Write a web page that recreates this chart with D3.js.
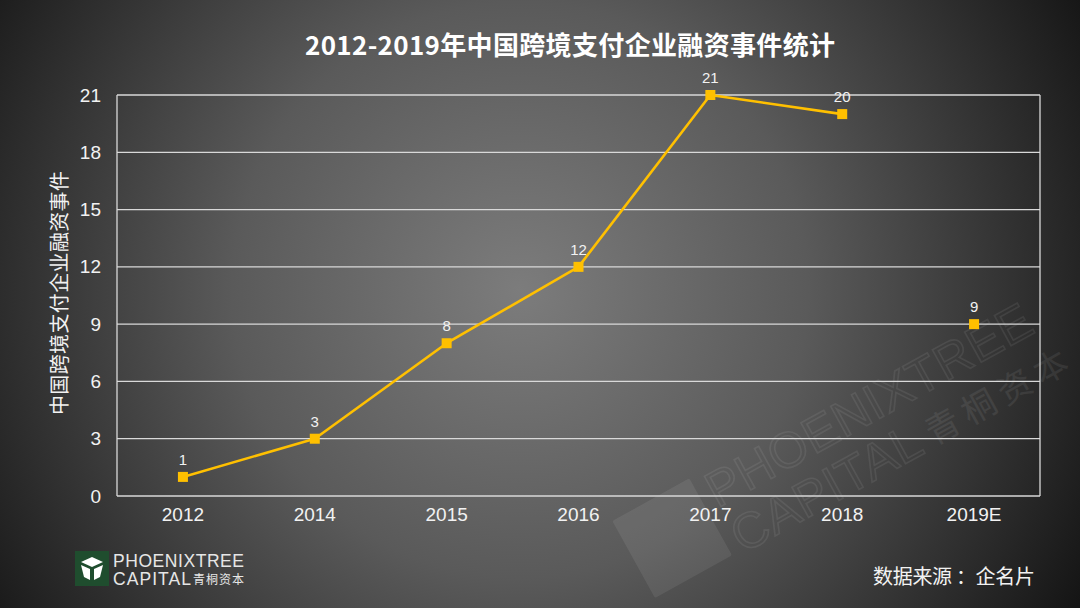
<!DOCTYPE html>
<html><head><meta charset="utf-8">
<script src="https://cdn.jsdelivr.net/npm/d3@7"></script>
<style>html,body{margin:0;padding:0;background:#222;}svg{display:block;}</style>
</head><body>
<svg id="c" width="1080" height="608"></svg>
<script>
const categories = ["2012","2014","2015","2016","2017","2018","2019E"];
const values = [1,3,8,12,21,20,9];
const connected = [true,true,true,true,true,true,false];
const yTicks = [0,3,6,9,12,15,18,21];
const title = "2012-2019年中国跨境支付企业融资事件统计";
const yLabel = "中国跨境支付企业融资事件";
const source = "数据来源 ：企名片";

const svg = d3.select("#c");
const W = 1080, H = 608;
const defs = svg.append("defs");
const rg = defs.append("radialGradient").attr("id","bg")
  .attr("gradientUnits","userSpaceOnUse").attr("cx",520).attr("cy",290).attr("r",640);
rg.append("stop").attr("offset","0").attr("stop-color","#7c7c7c");
rg.append("stop").attr("offset","0.45").attr("stop-color","#5a5a5a");
rg.append("stop").attr("offset","1").attr("stop-color","#151515");
svg.append("rect").attr("width",W).attr("height",H).attr("fill","url(#bg)");

// watermark
const wm = svg.append("g").attr("transform","translate(655,598) rotate(-29)").attr("opacity",0.07);
wm.append("rect").attr("x",0).attr("y",-88).attr("width",88).attr("height",88).attr("fill","#fff").attr("rx",2);
wm.append("text").attr("x",98).attr("y",-48).attr("font-family","Liberation Sans, Arial, sans-serif")
  .attr("font-size",50).attr("fill","none").attr("stroke","#fff").attr("stroke-width",1.6)
  .attr("textLength",365).text("PHOENIXTREE");
wm.append("text").attr("x",98).attr("y",4).attr("font-family","Liberation Sans, Arial, sans-serif")
  .attr("font-size",50).attr("fill","none").attr("stroke","#fff").attr("stroke-width",1.6)
  .attr("textLength",210).text("CAPITAL");
wm.append("text").attr("x",318).attr("y",2).attr("font-family","Noto Sans CJK SC, sans-serif")
  .attr("font-size",34).attr("fill","#fff").attr("letter-spacing",7).text("青桐资本");

const m = {l:117, r:1040, t:95, b:496};
const x = d3.scaleBand().domain(categories).range([m.l, m.r]);
const y = d3.scaleLinear().domain([0,21]).range([m.b, m.t]);

// gridlines
svg.append("g").selectAll("line").data(yTicks).join("line")
  .attr("x1",m.l).attr("x2",m.r).attr("y1",d=>y(d)).attr("y2",d=>y(d))
  .attr("stroke","#d9d9d9").attr("stroke-width",1.3);
svg.append("line").attr("x1",m.l).attr("x2",m.l).attr("y1",m.t).attr("y2",m.b).attr("stroke","#d9d9d9").attr("stroke-width",1.3);
svg.append("line").attr("x1",m.r).attr("x2",m.r).attr("y1",m.t).attr("y2",m.b).attr("stroke","#d9d9d9").attr("stroke-width",1.3);

// axes
const yAxis = d3.axisLeft(y).tickValues(yTicks).tickSize(0).tickPadding(16);
const ya = svg.append("g").attr("transform",`translate(${m.l},0)`).call(yAxis);
ya.select(".domain").remove();
ya.selectAll("text").attr("font-family","Liberation Sans, Arial, sans-serif").attr("font-size",19).attr("fill","#f2f2f2");

const xAxis = d3.axisBottom(x).tickSize(0).tickPadding(12);
const xa = svg.append("g").attr("transform",`translate(0,${m.b})`).call(xAxis);
xa.select(".domain").remove();
xa.selectAll("text").attr("font-family","Liberation Sans, Arial, sans-serif").attr("font-size",19).attr("fill","#f2f2f2");

const cx = d => x(d) + x.bandwidth()/2;
const pts = categories.map((c,i)=>({c, v:values[i], conn:connected[i]}));

const line = d3.line().x(d=>cx(d.c)).y(d=>y(d.v));
svg.append("path").datum(pts.filter(d=>d.conn)).attr("d",line)
  .attr("fill","none").attr("stroke","#ffc000").attr("stroke-width",2.6).attr("stroke-linejoin","round");

svg.append("g").selectAll("rect").data(pts).join("rect")
  .attr("x",d=>cx(d.c)-5).attr("y",d=>y(d.v)-5).attr("width",10).attr("height",10).attr("fill","#ffc000");

svg.append("g").selectAll("text").data(pts).join("text")
  .attr("x",d=>cx(d.c)).attr("y",d=>y(d.v)-12).attr("text-anchor","middle")
  .attr("font-family","Liberation Sans, Arial, sans-serif").attr("font-size",15).attr("fill","#f2f2f2")
  .text(d=>d.v);

// title
svg.append("text").attr("x",570).attr("y",55).attr("text-anchor","middle")
  .attr("font-family","Noto Sans CJK SC, sans-serif").attr("font-weight","bold")
  .attr("font-size",26).attr("fill","#ffffff").attr("textLength",530).text(title);

// y label
svg.append("text").attr("transform","translate(67,293) rotate(-90)").attr("text-anchor","middle")
  .attr("font-family","Noto Sans CJK SC, sans-serif").attr("font-size",20).attr("fill","#f2f2f2")
  .attr("textLength",244).text(yLabel);

// source
svg.append("text").attr("x",1035).attr("y",584).attr("text-anchor","end")
  .attr("font-family","Noto Sans CJK SC, sans-serif").attr("font-size",20).attr("fill","#f2f2f2")
  .attr("textLength",162).text(source);

// logo
const lg = svg.append("g").attr("transform","translate(75,551)");
lg.append("rect").attr("width",34).attr("height",35).attr("fill","#1f4d2e");
lg.append("path").attr("d","M17,6 L28,11 L17,16 L6,11 Z").attr("fill","#fff");
lg.append("path").attr("d","M6,14 L15,18 L15,29 L9,26 Z").attr("fill","#fff");
lg.append("path").attr("d","M28,14 L19,18 L19,29 L25,26 Z").attr("fill","#fff");
svg.append("text").attr("x",113).attr("y",567).attr("font-family","Liberation Sans, Arial, sans-serif")
  .attr("font-size",17.5).attr("fill","#e6e6e6").attr("textLength",131).text("PHOENIXTREE");
svg.append("text").attr("x",113).attr("y",585).attr("font-family","Liberation Sans, Arial, sans-serif")
  .attr("font-size",17.5).attr("fill","#e6e6e6").attr("textLength",78).text("CAPITAL");
svg.append("text").attr("x",193).attr("y",584).attr("font-family","Noto Sans CJK SC, sans-serif")
  .attr("font-size",12).attr("fill","#e6e6e6").attr("letter-spacing",1).text("青桐资本");
</script>
</body></html>
